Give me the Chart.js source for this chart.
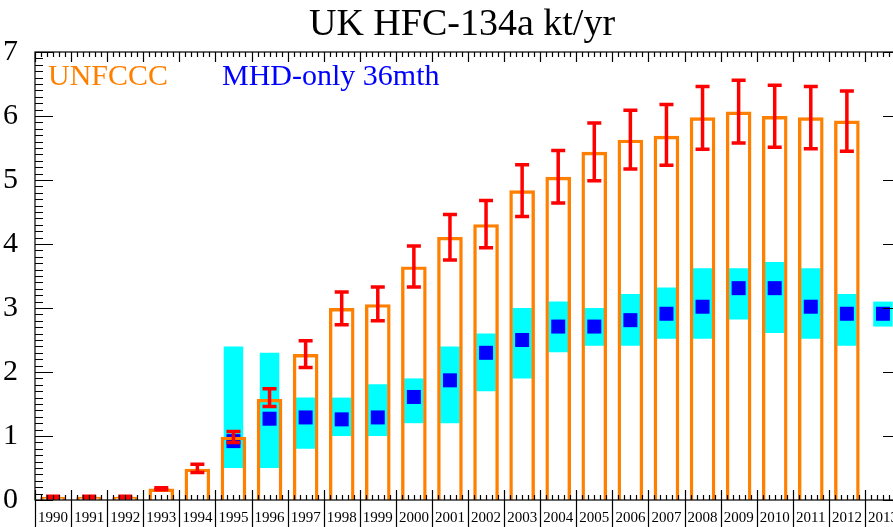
<!DOCTYPE html>
<html>
<head>
<meta charset="utf-8">
<script src="https://cdn.jsdelivr.net/npm/chart.js@4.4.1/dist/chart.umd.min.js"></script>
<style>
  html, body { margin: 0; padding: 0; overflow: hidden; background: #fff; }
  #wrap { width: 901px; height: 527px; }
</style>
</head>
<body>
<div id="wrap"><canvas id="c" width="901" height="527"></canvas></div>
<script>
// HFC-134a emissions, kt/yr
const years = ['1990','1991','1992','1993','1994','1995','1996','1997','1998','1999','2000','2001',
               '2002','2003','2004','2005','2006','2007','2008','2009','2010','2011','2012','2013'];

// UNFCCC inventory with its uncertainty range
const unfccc   = [0.05, 0.05, 0.05, 0.18, 0.49, 0.99, 1.58, 2.28, 3.00, 3.06, 3.65, 4.11,
                  4.31, 4.84, 5.05, 5.44, 5.63, 5.69, 5.98, 6.07, 6.00, 5.98, 5.93, null];
const unfcccLo = [0.03, 0.03, 0.03, 0.16, 0.43, 0.90, 1.46, 2.07, 2.74, 2.80, 3.33, 3.75,
                  3.94, 4.43, 4.64, 4.99, 5.17, 5.23, 5.48, 5.58, 5.51, 5.49, 5.45, null];
const unfcccHi = [0.06, 0.06, 0.06, 0.19, 0.56, 1.07, 1.74, 2.49, 3.25, 3.33, 3.97, 4.46,
                  4.68, 5.24, 5.46, 5.89, 6.09, 6.18, 6.46, 6.56, 6.48, 6.46, 6.39, null];

// MHD-only inversion (36 month), best estimate and range
const mhd   = [null, null, null, null, null, 0.92, 1.27, 1.29, 1.26, 1.29, 1.61, 1.87,
               2.30, 2.50, 2.71, 2.71, 2.81, 2.91, 3.02, 3.31, 3.31, 3.02, 2.91, 2.91];
const mhdLo = [null, null, null, null, null, 0.50, 0.50, 0.80, 1.00, 1.00, 1.20, 1.20,
               1.70, 1.90, 2.31, 2.41, 2.41, 2.52, 2.52, 2.82, 2.61, 2.52, 2.41, 2.71];
const mhdHi = [null, null, null, null, null, 2.40, 2.30, 1.60, 1.60, 1.81, 1.90, 2.40,
               2.60, 3.00, 3.10, 3.00, 3.22, 3.32, 3.62, 3.62, 3.72, 3.62, 3.22, 3.10];

const yTicks = [0, 1, 2, 3, 4, 5, 6, 7];

const SERIF = '"Liberation Serif", "DejaVu Serif", serif';
const ORANGE = '#ff8000', RED = '#ff0000', CYAN = '#00ffff', BLUE = '#0000ff';

const pair = (lo, hi) => lo.map((v, i) => v == null ? null : [v, hi[i]]);

// IDL-style frame: inward ticks on all sides, boxed year labels, title and legend
const frame = {
  id: 'frame',
  afterDatasetsDraw(chart) {
    const {ctx, chartArea: a, scales: {x, y}} = chart;
    ctx.save();
    ctx.strokeStyle = '#000';
    ctx.lineWidth = 1.2;
    ctx.strokeRect(a.left, a.top, a.right - a.left, a.bottom - a.top);
    ctx.beginPath();
    for (let i = 0; i <= yTicks[yTicks.length - 1] * 10; i++) {
      const py = Math.round(y.getPixelForValue(i / 10)) + 0.5;
      const len = i % 10 ? 8 : 18;
      ctx.moveTo(a.left, py);  ctx.lineTo(a.left + len, py);
      ctx.moveTo(a.right, py); ctx.lineTo(a.right - len, py);
    }
    const cell = x.getPixelForValue(1) - x.getPixelForValue(0);
    for (let i = 0; i <= years.length; i++) {
      const x0 = x.getPixelForValue(0) - cell / 2 + i * cell;
      for (let k = 0; k < 6; k++) {
        if (i === years.length && k) break;
        const px = Math.round(x0 + k * cell / 6) + 0.5;
        const len = k ? 5 : 10;
        ctx.moveTo(px, a.bottom); ctx.lineTo(px, a.bottom - len);
        ctx.moveTo(px, a.top);    ctx.lineTo(px, a.top + len);
      }
      const pb = Math.round(x0) + 0.5;
      ctx.moveTo(pb, a.bottom); ctx.lineTo(pb, chart.height);
    }
    ctx.stroke();

    ctx.textBaseline = 'alphabetic';
    ctx.textAlign = 'center';
    ctx.fillStyle = '#000';
    ctx.font = '38px ' + SERIF;
    ctx.fillText('UK HFC-134a kt/yr', 462, 35);

    ctx.textAlign = 'left';
    ctx.font = '30px ' + SERIF;
    ctx.fillStyle = ORANGE;
    ctx.fillText('UNFCCC', 48, 85);
    ctx.fillStyle = BLUE;
    ctx.fillText('MHD-only 36mth', 222, 85);
    ctx.restore();
  }
};

new Chart(document.getElementById('c'), {
  type: 'bar',
  data: {
    labels: years,
    datasets: [
      { label: 'MHD range', data: pair(mhdLo, mhdHi), backgroundColor: CYAN, borderWidth: 0,
        grouped: false, categoryPercentage: 1, barPercentage: 0.54, order: 5 },
      { type: 'line', label: 'MHD-only 36mth', data: mhd, showLine: false,
        pointStyle: 'rect', pointRadius: 9.9, pointBackgroundColor: BLUE, pointBorderWidth: 0, order: 4 },
      { label: 'UNFCCC', data: unfccc, backgroundColor: 'rgba(0,0,0,0)', borderColor: ORANGE,
        borderWidth: 3.4, borderSkipped: 'bottom', grouped: false,
        categoryPercentage: 1, barPercentage: 0.71, order: 3 },
      { label: 'UNFCCC range', data: pair(unfcccLo, unfcccHi), backgroundColor: RED, borderWidth: 0,
        grouped: false, categoryPercentage: 1, barPercentage: 0.1, maxBarThickness: 3.5, order: 2 },
      { type: 'line', label: 'UNFCCC high', data: unfcccHi, showLine: false, pointStyle: 'line',
        pointRadius: 7, pointBorderColor: RED, pointBorderWidth: 3.5, order: 1 },
      { type: 'line', label: 'UNFCCC low', data: unfcccLo, showLine: false, pointStyle: 'line',
        pointRadius: 7, pointBorderColor: RED, pointBorderWidth: 3.5, order: 1 }
    ]
  },
  options: {
    responsive: false,
    animation: false,
    devicePixelRatio: 1,
    layout: { autoPadding: false, padding: { top: 52, right: 0, left: 0, bottom: 0 } },
    plugins: { legend: { display: false }, tooltip: { enabled: false }, title: { display: false } },
    scales: {
      x: {
        offset: true,
        grid: { display: false },
        border: { display: false },
        ticks: { autoSkip: false, maxRotation: 0, color: '#000', padding: 1,
                 font: { family: SERIF, size: 15 } },
        afterFit: s => { s.height = 26; s.paddingLeft = 0; s.paddingRight = 0; }
      },
      y: {
        min: 0, max: 7,
        grid: { display: false },
        border: { display: false },
        ticks: { stepSize: 1, color: '#000', padding: 9, font: { family: SERIF, size: 30 } },
        afterFit: s => { s.width = 35; }
      }
    }
  },
  plugins: [frame]
});
</script>
</body>
</html>
